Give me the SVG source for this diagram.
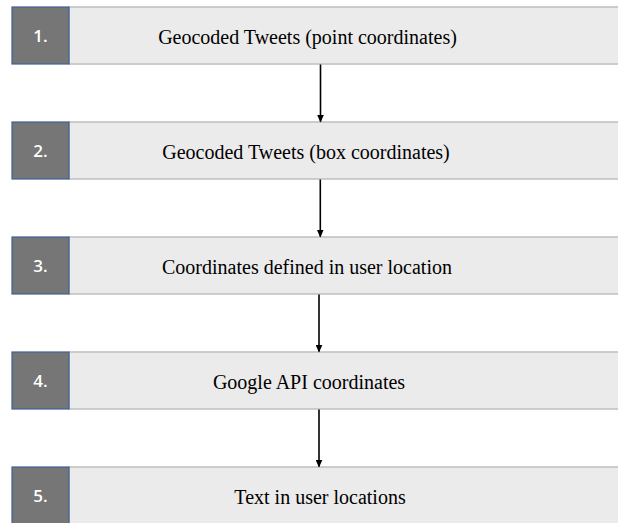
<svg xmlns="http://www.w3.org/2000/svg" width="618" height="523" viewBox="0 0 618 523">
<style>
.bar{fill:#ebebeb;stroke:#bfbfbf;stroke-width:1.5}
.num{fill:#767676;stroke:#3f5f96;stroke-width:1.2}
.nt{font-family:"Open Sans","Liberation Sans",sans-serif;font-size:17px;font-weight:600;fill:#ffffff;text-anchor:middle}
.lt{font-family:"Liberation Serif","Times New Roman",serif;font-size:20px;fill:#000000;text-anchor:middle}
.conn{stroke:#000;stroke-width:1.6;fill:none}
</style>
<defs>
<marker id="ah" markerWidth="8" markerHeight="7" refX="7" refY="3.5" orient="auto" markerUnits="userSpaceOnUse">
<path d="M0,0 L8,3.5 L0,7 Z" fill="#000"/>
</marker>
</defs>
<rect x="0" y="0" width="618" height="523" fill="#ffffff"/>
<g id="node1">
<rect class="bar" x="69" y="7" width="560" height="57"/>
<rect class="num" x="12" y="7" width="57" height="57"/>
<text class="nt" x="40.5" y="42">1.</text>
<text class="lt" x="307.5" y="44">Geocoded Tweets (point coordinates)</text>
</g>
<g id="node2">
<rect class="bar" x="69" y="122" width="560" height="57"/>
<rect class="num" x="12" y="122" width="57" height="57"/>
<text class="nt" x="40.5" y="157">2.</text>
<text class="lt" x="306" y="159">Geocoded Tweets (box coordinates)</text>
</g>
<g id="node3">
<rect class="bar" x="69" y="237" width="560" height="57"/>
<rect class="num" x="12" y="237" width="57" height="57"/>
<text class="nt" x="40.5" y="272">3.</text>
<text class="lt" x="307" y="274">Coordinates defined in user location</text>
</g>
<g id="node4">
<rect class="bar" x="69" y="352" width="560" height="57"/>
<rect class="num" x="12" y="352" width="57" height="57"/>
<text class="nt" x="40.5" y="387">4.</text>
<text class="lt" x="309" y="389">Google API coordinates</text>
</g>
<g id="node5">
<rect class="bar" x="69" y="467" width="560" height="60"/>
<rect class="num" x="12" y="467" width="57" height="60"/>
<text class="nt" x="40.5" y="502">5.</text>
<text class="lt" x="320" y="504">Text in user locations</text>
</g>
<g id="connectors">
<line class="conn" x1="320.5" y1="64.5" x2="320.5" y2="121.5" marker-end="url(#ah)"/>
<line class="conn" x1="320.3" y1="179.5" x2="320.3" y2="236.5" marker-end="url(#ah)"/>
<line class="conn" x1="319" y1="294.5" x2="319" y2="351.5" marker-end="url(#ah)"/>
<line class="conn" x1="319" y1="409.5" x2="319" y2="466.5" marker-end="url(#ah)"/>
</g>
</svg>
